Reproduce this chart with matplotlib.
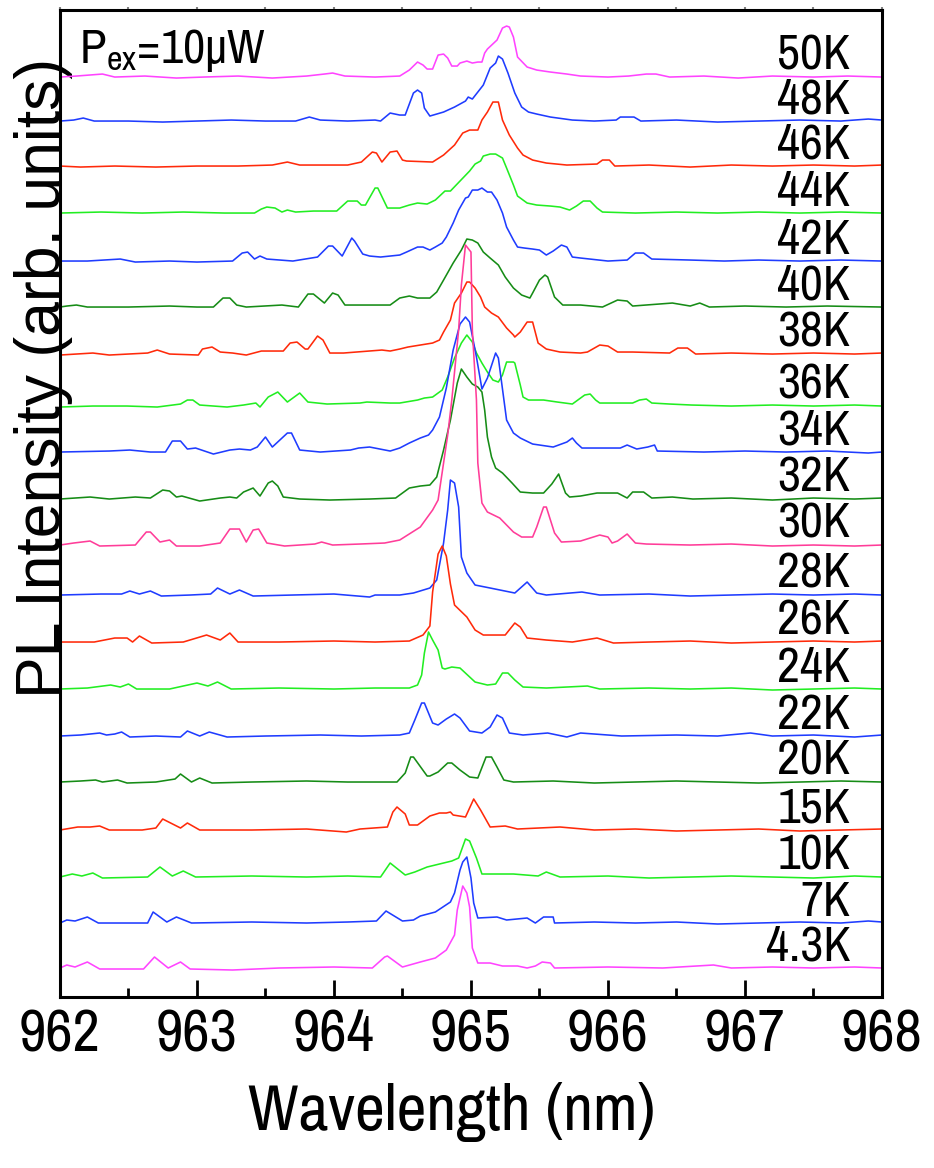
import numpy as np
import matplotlib
matplotlib.use('Agg')
import matplotlib.pyplot as plt
from matplotlib.ticker import MultipleLocator

plt.rcParams['font.family'] = ['Archivo Narrow', 'Liberation Sans', 'DejaVu Sans']
plt.rcParams['mathtext.fontset'] = 'custom'
plt.rcParams['mathtext.rm'] = 'Archivo Narrow'

# temperature series, top to bottom
temps = ['50K', '48K', '46K', '44K', '42K', '40K', '38K', '36K', '34K', '32K',
         '30K', '28K', '26K', '24K', '22K', '20K', '15K', '10K', '7K', '4.3K']

# vertical shift of each spectrum (arb. units)
offsets = [920, 876, 831, 784, 736, 690, 643, 591, 545, 498,
           452, 402, 355, 308, 261, 215, 167, 120, 74, 29]

# (wavelength nm, PL intensity arb. units)
spec_50K = [(962.00, 0), (962.12, 1), (962.31, 3), (962.40, 0), (962.62, 1), (962.85, -1), (963.05, 0),
            (963.30, 1), (963.55, -1), (963.80, 1), (963.93, 3), (963.99, 4), (964.08, 1), (964.30, 0),
            (964.48, 1), (964.55, 7), (964.61, 15), (964.65, 12), (964.68, 8), (964.72, 8), (964.76, 22),
            (964.80, 23), (964.83, 19), (964.86, 11), (964.90, 11), (964.92, 14), (964.97, 16), (965.01, 14),
            (965.05, 15), (965.08, 15), (965.10, 24), (965.12, 28), (965.19, 37), (965.23, 49), (965.26, 51),
            (965.28, 50), (965.31, 40), (965.34, 20), (965.41, 10), (965.48, 7), (965.58, 5), (965.70, 3),
            (965.80, 1), (966.00, 0), (966.15, 1), (966.28, 3), (966.35, 3), (966.45, 0), (966.70, 1),
            (966.95, -1), (967.20, 1), (967.50, 0), (967.75, 1), (968.00, 0)]
spec_48K = [(962.00, 0), (962.10, 1), (962.17, 3), (962.25, 0), (962.50, 0), (962.75, -1), (963.00, 0),
            (963.25, 1), (963.50, 0), (963.72, 0), (963.82, 4), (963.90, 1), (964.10, 0), (964.30, 1),
            (964.34, 0), (964.41, 8), (964.48, 6), (964.52, 6), (964.58, 28), (964.61, 31), (964.64, 28),
            (964.66, 13), (964.70, 5), (964.80, 9), (964.88, 14), (964.96, 20), (964.98, 24), (965.01, 22),
            (965.05, 29), (965.09, 36), (965.14, 53), (965.18, 58), (965.20, 65), (965.23, 62), (965.27, 48),
            (965.32, 28), (965.37, 14), (965.42, 9), (965.48, 7), (965.58, 4), (965.74, 1), (965.90, 0),
            (966.06, 1), (966.09, 4), (966.19, 4), (966.24, 0), (966.50, 1), (966.80, -1), (967.10, 0),
            (967.40, 1), (967.70, 0), (967.90, 2), (968.00, 1)]
spec_46K = [(962.00, 0), (962.15, -1), (962.40, 0), (962.70, -1), (963.00, 0), (963.30, 0), (963.55, 1),
            (963.66, 4), (963.75, 1), (963.90, 1), (964.10, 1), (964.20, 4), (964.28, 14), (964.31, 13),
            (964.35, 4), (964.41, 14), (964.46, 15), (964.50, 6), (964.53, 5), (964.72, 4), (964.80, 11),
            (964.88, 21), (964.94, 33), (964.99, 36), (965.05, 36), (965.08, 46), (965.12, 54), (965.16, 64),
            (965.20, 64), (965.23, 46), (965.28, 31), (965.34, 18), (965.38, 11), (965.45, 6), (965.55, 3),
            (965.70, 1), (965.92, 2), (965.96, 6), (966.01, 6), (966.05, 0), (966.30, 1), (966.60, -1),
            (966.90, 1), (967.20, 0), (967.50, 1), (967.80, 0), (968.00, 1)]
spec_44K = [(962.00, 0), (962.30, 1), (962.60, 0), (962.90, 1), (963.20, 0), (963.42, 0), (963.47, 4),
            (963.51, 6), (963.57, 5), (963.62, 1), (963.66, 3), (963.72, 1), (963.85, 2), (964.02, 2),
            (964.10, 12), (964.17, 12), (964.20, 8), (964.23, 8), (964.30, 25), (964.32, 25), (964.39, 5),
            (964.48, 5), (964.55, 8), (964.61, 10), (964.68, 9), (964.74, 13), (964.81, 22), (964.85, 22),
            (964.92, 32), (964.99, 42), (965.03, 49), (965.07, 52), (965.09, 57), (965.14, 59), (965.18, 59),
            (965.23, 55), (965.26, 45), (965.31, 28), (965.34, 17), (965.41, 10), (965.48, 8), (965.58, 7),
            (965.65, 6), (965.72, 3), (965.77, 7), (965.82, 12), (965.87, 12), (965.92, 5), (965.96, 1),
            (966.20, 0), (966.50, 1), (966.80, 0), (967.10, 1), (967.40, 0), (967.70, 1), (968.00, 0)]
spec_42K = [(962.00, 0), (962.20, 0), (962.44, 2), (962.55, -1), (962.80, 0), (963.00, -1), (963.26, 0),
            (963.33, 8), (963.37, 9), (963.42, 2), (963.46, 5), (963.51, 2), (963.70, 0), (963.88, 4),
            (963.96, 15), (963.99, 15), (964.06, 5), (964.13, 23), (964.15, 20), (964.21, 7), (964.26, 5),
            (964.34, 4), (964.41, 5), (964.48, 6), (964.53, 9), (964.61, 14), (964.65, 14), (964.70, 11),
            (964.74, 14), (964.79, 18), (964.82, 24), (964.87, 38), (964.91, 51), (964.96, 63), (964.98, 64),
            (965.01, 71), (965.05, 71), (965.08, 73), (965.12, 69), (965.15, 69), (965.19, 61), (965.23, 48),
            (965.26, 34), (965.31, 21), (965.34, 14), (965.39, 13), (965.45, 12), (965.50, 11), (965.55, 6),
            (965.60, 10), (965.66, 16), (965.70, 14), (965.74, 4), (965.80, 3), (966.00, 0), (966.14, 1),
            (966.20, 8), (966.26, 8), (966.32, 2), (966.60, 1), (966.85, 0), (967.10, 1), (967.40, 0),
            (967.70, 1), (968.00, 0)]
spec_40K = [(962.00, 0), (962.05, 1), (962.12, 2), (962.20, 0), (962.50, 0), (962.80, 1), (963.00, 0),
            (963.12, 0), (963.19, 9), (963.24, 9), (963.29, 2), (963.36, 0), (963.62, 2), (963.74, 0),
            (963.81, 13), (963.85, 13), (963.93, 4), (963.99, 14), (964.03, 12), (964.08, 2), (964.41, 2),
            (964.48, 9), (964.55, 11), (964.61, 9), (964.70, 9), (964.75, 15), (964.80, 27), (964.87, 44),
            (964.93, 57), (964.97, 68), (965.01, 67), (965.05, 64), (965.09, 55), (965.14, 49), (965.20, 42),
            (965.25, 30), (965.31, 19), (965.37, 12), (965.43, 9), (965.45, 14), (965.50, 27), (965.54, 32),
            (965.56, 30), (965.61, 10), (965.67, 2), (965.80, 2), (965.96, 0), (966.07, 7), (966.14, 6),
            (966.18, 1), (966.47, 4), (966.60, 1), (966.67, 4), (966.74, 0), (967.00, 1), (967.30, 0),
            (967.60, 1), (968.00, 0)]
spec_38K = [(962.00, -1), (962.24, 1), (962.36, -1), (962.64, 1), (962.71, 4), (962.80, 0), (963.01, -1),
            (963.04, 5), (963.11, 7), (963.17, 2), (963.26, 1), (963.36, -1), (963.47, 3), (963.63, 3),
            (963.68, 11), (963.73, 12), (963.79, 5), (963.81, 5), (963.88, 18), (963.92, 14), (963.97, 1),
            (964.07, 1), (964.35, 4), (964.41, 3), (964.48, 5), (964.54, 7), (964.63, 9), (964.72, 11),
            (964.77, 14), (964.80, 22), (964.85, 34), (964.88, 51), (964.93, 61), (964.97, 72), (964.99, 72),
            (965.03, 66), (965.07, 57), (965.10, 47), (965.15, 41), (965.20, 37), (965.26, 26), (965.31, 19),
            (965.32, 17), (965.36, 22), (965.41, 32), (965.45, 32), (965.49, 11), (965.55, 5), (965.65, 2),
            (965.80, 1), (965.85, 2), (965.94, 9), (966.00, 8), (966.07, 2), (966.18, 2), (966.45, 1),
            (966.51, 6), (966.58, 6), (966.64, 0), (966.90, 1), (967.20, 0), (967.50, 1), (967.80, 0),
            (968.00, 1)]
spec_36K = [(962.00, -1), (962.24, 0), (962.49, 0), (962.71, -1), (962.88, 2), (962.93, 6), (962.97, 6),
            (963.02, 1), (963.22, -1), (963.34, 1), (963.43, 3), (963.46, -1), (963.52, 9), (963.59, 14),
            (963.66, 4), (963.75, 13), (963.81, 4), (963.95, 2), (964.19, 3), (964.24, 4), (964.41, 3),
            (964.48, 3), (964.61, 6), (964.66, 8), (964.72, 9), (964.79, 16), (964.83, 29), (964.88, 48),
            (964.93, 63), (964.97, 71), (965.01, 64), (965.04, 53), (965.08, 43), (965.12, 34), (965.16, 26),
            (965.20, 24), (965.23, 31), (965.26, 44), (965.31, 44), (965.32, 43), (965.36, 21), (965.38, 9),
            (965.42, 6), (965.53, 6), (965.63, 4), (965.74, 2), (965.78, 6), (965.83, 11), (965.87, 12),
            (965.91, 6), (965.94, 3), (966.18, 3), (966.23, 6), (966.28, 7), (966.32, 3), (966.45, 2),
            (966.61, 1), (966.90, 0), (967.20, 1), (967.50, 0), (967.80, 1), (968.00, 0)]
spec_34K = [(962.00, 0), (962.36, 1), (962.51, 2), (962.66, 0), (962.77, 0), (962.82, 11), (962.88, 11),
            (962.93, 3), (962.99, 4), (963.12, -2), (963.24, 2), (963.31, 3), (963.39, 2), (963.44, 5),
            (963.50, 15), (963.55, 5), (963.66, 19), (963.69, 19), (963.75, 2), (963.90, 0), (964.12, 2),
            (964.18, 4), (964.26, 5), (964.41, 1), (964.48, 4), (964.55, 9), (964.63, 14), (964.69, 17),
            (964.72, 22), (964.77, 35), (964.82, 64), (964.87, 102), (964.92, 128), (964.96, 135),
            (964.99, 130), (965.04, 95), (965.08, 63), (965.12, 74), (965.18, 99), (965.20, 94), (965.26, 32),
            (965.31, 19), (965.36, 14), (965.45, 8), (965.60, 5), (965.70, 10), (965.74, 14), (965.77, 9),
            (965.81, 4), (966.09, 4), (966.14, 7), (966.21, 3), (966.29, 5), (966.34, 7), (966.36, 1),
            (966.70, 0), (967.00, 1), (967.30, 0), (967.60, 1), (967.90, -1), (968.00, 0)]
spec_32K = [(962.00, 0), (962.22, 2), (962.36, 0), (962.55, 2), (962.66, 1), (962.75, 9), (962.80, 8),
            (962.85, 2), (962.89, 3), (963.02, -2), (963.17, 1), (963.24, 2), (963.29, 1), (963.34, 7),
            (963.41, 11), (963.46, 3), (963.52, 16), (963.55, 18), (963.59, 13), (963.63, 2), (963.75, 0),
            (963.97, -1), (964.26, 0), (964.45, 1), (964.48, 4), (964.55, 11), (964.63, 13), (964.70, 14),
            (964.75, 22), (964.80, 49), (964.85, 79), (964.90, 116), (964.93, 130), (964.97, 122),
            (965.01, 115), (965.05, 112), (965.08, 107), (965.10, 89), (965.12, 62), (965.15, 42),
            (965.18, 31), (965.23, 26), (965.30, 16), (965.36, 7), (965.45, 6), (965.53, 6), (965.59, 15),
            (965.64, 25), (965.69, 6), (965.72, 2), (965.80, 3), (965.92, 6), (966.07, 6), (966.14, 1),
            (966.18, 7), (966.26, 7), (966.32, 1), (966.47, 2), (966.62, 0), (966.90, 1), (967.20, -1),
            (967.50, 1), (967.80, 0), (968.00, 1)]
spec_30K = [(962.00, 0), (962.10, 2), (962.22, 4), (962.29, -1), (962.55, 0), (962.63, 13), (962.66, 13),
            (962.73, 3), (962.80, 5), (962.85, -1), (963.02, -1), (963.17, 2), (963.24, 16), (963.31, 16),
            (963.36, 3), (963.41, 15), (963.45, 16), (963.51, 2), (963.64, -1), (963.75, 0), (963.86, 1),
            (963.91, 3), (963.99, 0), (964.19, 1), (964.37, 2), (964.48, 5), (964.63, 18), (964.72, 35),
            (964.76, 45), (964.80, 82), (964.83, 110), (964.86, 145), (964.91, 215), (964.93, 260),
            (964.96, 300), (965.00, 293), (965.01, 215), (965.04, 145), (965.05, 82), (965.08, 42),
            (965.12, 33), (965.21, 27), (965.31, 13), (965.37, 8), (965.45, 8), (965.48, 18), (965.53, 38),
            (965.55, 38), (965.61, 12), (965.66, 3), (965.80, 4), (965.94, 10), (966.00, 8), (966.03, 2),
            (966.07, 4), (966.14, 11), (966.20, 2), (966.28, 1), (966.60, 0), (966.90, 1), (967.20, -1),
            (967.50, 0), (967.80, -1), (968.00, 0)]
spec_28K = [(962.00, 0), (962.30, 1), (962.45, 1), (962.51, 4), (962.58, 1), (962.66, 4), (962.74, -1),
            (962.95, 0), (963.10, 1), (963.15, 7), (963.24, 1), (963.31, 5), (963.41, -1), (963.70, 0),
            (964.00, 1), (964.26, -2), (964.30, 0), (964.48, 0), (964.58, 2), (964.70, 7), (964.75, 15),
            (964.80, 52), (964.83, 85), (964.85, 115), (964.88, 112), (964.91, 88), (964.93, 38),
            (964.97, 22), (965.03, 10), (965.14, 7), (965.32, 2), (965.41, 13), (965.48, 2), (965.55, 0),
            (965.81, 3), (965.94, 0), (966.30, 1), (966.60, -1), (966.90, 0), (967.20, 1), (967.50, 0),
            (967.80, 1), (968.00, 0)]
spec_26K = [(962.00, 0), (962.25, 0), (962.40, 4), (962.49, 4), (962.53, 0), (962.58, 6), (962.67, -1),
            (962.90, 0), (963.07, 7), (963.17, 2), (963.24, 9), (963.30, 0), (963.60, 0), (964.00, 1),
            (964.30, 0), (964.55, 1), (964.65, 7), (964.70, 16), (964.72, 50), (964.76, 88), (964.79, 96),
            (964.82, 86), (964.85, 58), (964.88, 37), (964.97, 25), (965.03, 12), (965.09, 7), (965.25, 7),
            (965.32, 19), (965.36, 15), (965.41, 4), (965.55, 2), (965.74, 0), (965.92, 4), (966.04, -1),
            (966.30, 0), (966.60, 1), (966.90, -1), (967.20, 0), (967.50, 1), (967.80, 0), (968.00, 1)]
spec_24K = [(962.00, 0), (962.20, 1), (962.37, 4), (962.44, 2), (962.50, 5), (962.56, 0), (962.80, 0),
            (963.00, 6), (963.08, 3), (963.15, 7), (963.25, 0), (963.60, 1), (964.00, 0), (964.30, 1),
            (964.55, 1), (964.61, 4), (964.64, 14), (964.66, 36), (964.69, 57), (964.72, 49), (964.76, 39),
            (964.79, 21), (964.81, 20), (964.86, 22), (964.92, 21), (965.03, 7), (965.12, 4), (965.18, 5),
            (965.23, 16), (965.27, 16), (965.32, 9), (965.38, 2), (965.55, 1), (965.85, 3), (965.94, 0),
            (966.30, 1), (966.60, 0), (966.90, 1), (967.20, -1), (967.50, 0), (967.80, 1), (968.00, 0)]
spec_22K = [(962.00, 0), (962.15, 1), (962.29, 3), (962.34, 1), (962.40, 2), (962.45, 4), (962.51, -1),
            (962.70, 0), (962.88, -1), (962.93, 5), (963.02, 0), (963.09, 4), (963.22, -1), (963.50, 0),
            (963.90, 1), (964.20, 0), (964.48, 1), (964.55, 3), (964.59, 16), (964.64, 33), (964.66, 33),
            (964.72, 13), (964.76, 11), (964.82, 17), (964.88, 22), (964.92, 18), (964.99, 5), (965.08, 3),
            (965.14, 9), (965.19, 21), (965.23, 18), (965.28, 3), (965.38, 1), (965.56, 3), (965.70, -1),
            (965.80, 3), (966.10, 0), (966.50, 1), (966.80, 0), (967.04, 3), (967.20, 0), (967.50, 1),
            (967.80, -1), (968.00, 1)]
spec_20K = [(962.00, 0), (962.15, 1), (962.26, 2), (962.31, 0), (962.42, 2), (962.49, -1), (962.70, 0),
            (962.84, 3), (962.88, 8), (962.96, 0), (963.02, 4), (963.11, -1), (963.40, 0), (963.80, 1),
            (964.10, 0), (964.46, 0), (964.52, 9), (964.56, 25), (964.58, 25), (964.68, 6), (964.70, 6),
            (964.76, 10), (964.83, 19), (964.86, 19), (964.92, 12), (964.99, 5), (965.05, 4), (965.11, 25),
            (965.15, 25), (965.19, 15), (965.24, 2), (965.31, 0), (965.60, 1), (965.90, -1), (966.20, 0),
            (966.50, 1), (966.80, 0), (967.10, -1), (967.40, 0), (967.70, 1), (968.00, 0)]
spec_15K = [(962.00, 0), (962.13, 3), (962.22, 3), (962.29, 4), (962.36, 0), (962.60, 0), (962.70, 2),
            (962.75, 11), (962.88, 2), (962.93, 7), (963.02, 0), (963.40, 0), (963.80, 1), (964.09, -2),
            (964.19, 1), (964.39, 3), (964.43, 18), (964.46, 23), (964.52, 16), (964.55, 5), (964.61, 5),
            (964.70, 14), (964.77, 17), (964.82, 17), (964.85, 18), (964.87, 15), (964.96, 13), (965.02, 31),
            (965.07, 20), (965.14, 3), (965.25, 4), (965.34, 1), (965.65, 3), (965.90, 0), (966.20, 1),
            (966.50, -1), (966.80, 0), (967.10, 1), (967.40, -1), (967.70, 0), (968.00, 1)]
spec_10K = [(962.00, 0), (962.09, 3), (962.16, 1), (962.24, 4), (962.31, -1), (962.64, 0), (962.73, 10),
            (962.82, 1), (962.90, 6), (962.99, 0), (963.40, 1), (963.80, 0), (964.10, 1), (964.34, 0),
            (964.41, 14), (964.52, 2), (964.59, 5), (964.68, 10), (964.80, 14), (964.86, 16), (964.91, 19),
            (964.96, 38), (964.99, 36), (965.04, 19), (965.08, 3), (965.31, 3), (965.49, 1), (965.55, 5),
            (965.65, 0), (966.00, 1), (966.30, -1), (966.60, 0), (966.90, 1), (967.20, 0), (967.50, -1),
            (967.80, 1), (968.00, 0)]
spec_7K = [(962.00, 0), (962.05, 3), (962.11, 2), (962.20, 6), (962.28, 0), (962.64, 0), (962.68, 11),
           (962.78, 1), (962.85, 6), (962.96, 0), (963.40, 1), (963.80, 0), (964.10, 1), (964.31, 2),
           (964.38, 12), (964.50, 2), (964.58, 3), (964.63, 7), (964.74, 11), (964.85, 21), (964.88, 30),
           (964.92, 53), (964.94, 61), (964.97, 66), (965.00, 45), (965.02, 20), (965.05, 5), (965.19, 6),
           (965.26, 3), (965.41, 5), (965.47, 0), (965.53, 6), (965.60, 6), (965.61, 0), (965.90, 1),
           (966.20, 0), (966.50, 1), (966.80, -1), (967.10, 0), (967.40, 1), (967.70, 0), (967.90, 2),
           (968.00, 1)]
spec_4_3K = [(962.00, 0), (962.05, 3), (962.11, 1), (962.20, 6), (962.29, -1), (962.61, -1), (962.69, 11),
             (962.79, 0), (962.88, 6), (962.95, -1), (963.26, -2), (963.60, 0), (964.00, 1), (964.28, 0),
             (964.37, 11), (964.39, 12), (964.50, 1), (964.63, 6), (964.74, 10), (964.82, 18), (964.88, 33),
             (964.90, 58), (964.94, 82), (964.97, 75), (964.99, 61), (965.01, 20), (965.05, 5), (965.14, 5),
             (965.23, 2), (965.34, 2), (965.41, 0), (965.47, 2), (965.52, 6), (965.58, 5), (965.61, 0),
             (966.00, 1), (966.40, 0), (966.77, 3), (966.90, 0), (967.20, 1), (967.50, 0), (967.80, 1),
             (968.00, 0)]

spectra = [spec_50K, spec_48K, spec_46K, spec_44K, spec_42K, spec_40K, spec_38K, spec_36K, spec_34K,
           spec_32K, spec_30K, spec_28K, spec_26K, spec_24K, spec_22K, spec_20K, spec_15K, spec_10K,
           spec_7K, spec_4_3K]

magenta, blue, red, lime, dgreen, pink = '#ff44ff', '#1f3cff', '#ff2a0a', '#22ee22', '#168c16', '#ff3d99'
colors = [magenta, blue, red, lime, blue, dgreen, red, lime, blue, dgreen,
          pink, blue, red, lime, blue, dgreen, red, lime, blue, magenta]

fig = plt.figure(figsize=(9.34, 11.68), dpi=100)
ax = fig.add_axes([0.0642, 0.1464, 0.8801, 0.8450])

for spec, off, col, t in zip(spectra, offsets, colors, temps):
    wl = np.array([p[0] for p in spec])
    inten = np.array([p[1] for p in spec])
    ax.plot(wl, inten + off, color=col, lw=1.15)
    ax.text(967.77, off + 21, t, fontsize=36, ha='right', va='center')

ax.text(962.14, 934, r'$\mathregular{P_{ex}}$=10μW', fontsize=35, ha='left', va='baseline')

ax.set_xlim(962, 968)
ax.set_ylim(0, 987)
ax.xaxis.set_major_locator(MultipleLocator(1))
ax.xaxis.set_minor_locator(MultipleLocator(0.5))
ax.tick_params(axis='x', which='major', direction='in', length=12, width=2.0, labelsize=43, pad=8)
ax.tick_params(axis='x', which='minor', direction='in', length=6.5, width=2.0)
ax.set_yticks([])
for s in ax.spines.values():
    s.set_linewidth(2.2)

top = ax.secondary_xaxis('top')
top.xaxis.set_major_locator(MultipleLocator(0.5))
top.tick_params(direction='out', length=2.5, width=1.5, color='0.5', labeltop=False)
top.spines['top'].set_visible(False)

ax.set_xlabel('Wavelength (nm)', fontsize=47)
ax.xaxis.set_label_coords(0.477, -0.086)
ax.set_ylabel('PL Intensity (arb. units)', fontsize=45, family=['Liberation Sans', 'DejaVu Sans'],
              va='baseline')
ax.yaxis.set_label_coords(0.0, 0.627)

fig.savefig('out.png', dpi=100)
